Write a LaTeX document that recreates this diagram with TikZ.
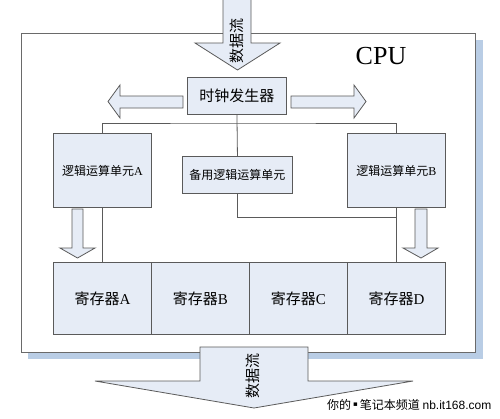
\documentclass[tikz,border=0pt]{standalone}
\usepackage{fontspec}
\setmainfont{Liberation Serif}
\newfontfamily\cjk{Noto Sans CJK SC}
\newfontfamily\dejavu{DejaVu Sans}
\newfontfamily\arialx{Liberation Sans}
\definecolor{boxfill}{HTML}{E6ECF6}
\definecolor{edge}{HTML}{5A5A5A}
\definecolor{framec}{HTML}{6A6A6A}
\definecolor{shadowc}{HTML}{B9CDE5}
\begin{document}
\begin{tikzpicture}[x=1pt,y=-1pt,
  box/.style={draw=edge, fill=boxfill, line width=0.9pt, inner sep=0pt, anchor=north west, align=center},
  fat/.style={draw=edge, fill=boxfill, line width=0.8pt, line join=miter},
  wire/.style={draw=edge, line width=0.8pt},
  small/.style={font=\cjk\fontsize{12}{12}\selectfont},
  big/.style={font=\cjk\fontsize{15}{15}\selectfont}]
\useasboundingbox (0,0) rectangle (500,418);
% frame with shadow
\fill[shadowc] (28,40) rectangle (483,359);
\draw[fill=white, draw=framec, line width=1pt] (21,33) rectangle (475,352);
% top data flow arrow
\draw[fat] (223,-2) -- (251,-2) -- (251,43) -- (280,43) -- (237.5,70) -- (195,43) -- (223,43) -- cycle;
\node[rotate=90, font=\cjk\fontsize{15}{15}\selectfont] (dtop) at (237,41) {数据流};
% CPU label
\node[font=\fontsize{26}{26}\selectfont] (cpu) at (381,56) {CPU};
% clock
\node[box, minimum width=99pt, minimum height=37pt, big] (clk) at (187,77) {时钟发生器};
\draw[fat] (183,96) -- (120,96) -- (120,85) -- (108,101.5) -- (120,118) -- (120,108) -- (183,108) -- cycle;
\draw[fat] (291,96) -- (354,96) -- (354,85) -- (366,101.5) -- (354,118) -- (354,108) -- (291,108) -- cycle;
% ALUs
\node[box, minimum width=98pt, minimum height=74pt, small] (A) at (53,133) {逻辑运算单元{\rmfamily A}};
\node[box, minimum width=98pt, minimum height=74pt, small] (B) at (347,133) {逻辑运算单元{\rmfamily B}};
\node[box, minimum width=110pt, minimum height=37pt, small] (bak) at (182,156) {备用逻辑运算单元};
% registers
\node[box, minimum width=98pt, minimum height=72pt, big] (rA) at (53,262) {寄存器{\rmfamily A}};
\node[box, minimum width=98pt, minimum height=72pt, big] (rB) at (151,262) {寄存器{\rmfamily B}};
\node[box, minimum width=98pt, minimum height=72pt, big] (rC) at (249,262) {寄存器{\rmfamily C}};
\node[box, minimum width=98pt, minimum height=72pt, big] (rD) at (347,262) {寄存器{\rmfamily D}};
% wiring
\coordinate (bus) at (237,123);
\coordinate (j) at (396,217);
\draw[wire] (clk.south) -- (bak.north);
\draw[wire] (A.north) |- (bus) -| (B.north);
\draw[wire] (A.south) -- (rA.north);
\draw[wire] (B.south) -- (rD.north);
\draw[wire] (bak.south) |- (j);
% down arrows
\draw[fat] (72,209) -- (83,209) -- (83,248) -- (95,248) -- (77.5,258) -- (60,248) -- (72,248) -- cycle;
\draw[fat] (415,209) -- (427,209) -- (427,248) -- (438,248) -- (421,258) -- (403,248) -- (415,248) -- cycle;
% bottom data flow arrow
\draw[fat] (200,347) -- (308,347) -- (308,381) -- (413,381) -- (254,408) -- (95,381) -- (200,381) -- cycle;
\node[rotate=90, font=\cjk\fontsize{15}{15}\selectfont] (dbot) at (253,376) {数据流};
% footer
\node[anchor=base west, inner sep=0pt, font=\cjk\fontsize{12}{12}\selectfont] (foot) at (327,409) {你的\,\raisebox{2.5pt}{\dejavu\fontsize{7}{7}\selectfont ▪}\,笔记本频道\ {\arialx nb.it168.com}};
\end{tikzpicture}
\end{document}
